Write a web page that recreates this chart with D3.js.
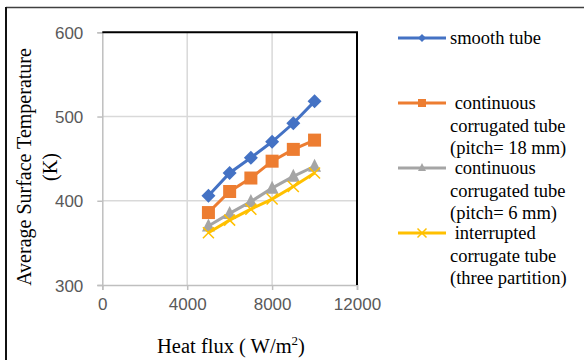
<!DOCTYPE html>
<html>
<head>
<meta charset="utf-8">
<script src="https://cdn.jsdelivr.net/npm/d3@7"></script>
<style>
  body { margin: 0; background: #fff; }
  svg { display: block; }
</style>
</head>
<body>
<div class="chart"></div>
<script>
// heat flux (W/m2)
const heatFlux = [5000, 6000, 7000, 8000, 9000, 10000];
// average surface temperature (K)
const smoothTube = [406, 433, 451, 470, 492, 518];
const pitch18 = [386, 411, 427, 447, 461, 472];
const pitch6 = [370, 385, 399, 415, 429, 441];
const interrupted = [362, 377, 390, 402, 417, 433];

const xTicks = [0, 4000, 8000, 12000];
const yTicks = [300, 400, 500, 600];

const seriesNames = [
  ["smooth tube"],
  [" continuous", "corrugated tube", "(pitch= 18 mm)"],
  [" continuous", "corrugated tube", "(pitch= 6 mm)"],
  [" interrupted", "corrugate tube", "(three partition)"]
];

const WIDTH = 584, HEIGHT = 360;
const MARGINS = { top: 32.3, right: 227, bottom: 75, left: 102.3 };

const series = [
  { values: smoothTube, color: "#4472C4", marker: "diamond" },
  { values: pitch18, color: "#ED7D31", marker: "square" },
  { values: pitch6, color: "#A5A5A5", marker: "triangle" },
  { values: interrupted, color: "#FFC000", marker: "cross" }
];
series.forEach((s, i) => { s.names = seriesNames[i]; });

const svg = d3.select(".chart")
  .append("svg")
  .attr("width", WIDTH)
  .attr("height", HEIGHT);

const xRange = d3.scaleLinear()
  .domain([0, 12000])
  .range([MARGINS.left, WIDTH - MARGINS.right]);
const yRange = d3.scaleLinear()
  .domain([300, 600])
  .range([HEIGHT - MARGINS.bottom, MARGINS.top]);

// outer frame (top and left edges only are visible)
svg.append("line")
  .attr("x1", 6).attr("x2", WIDTH).attr("y1", 7.5).attr("y2", 7.5)
  .attr("stroke", "#404040").attr("stroke-width", 1.5);
svg.append("line")
  .attr("x1", 6).attr("x2", 6).attr("y1", 7).attr("y2", HEIGHT)
  .attr("stroke", "#111").attr("stroke-width", 2);

// grid
svg.selectAll(".hgrid")
  .data(yTicks.slice(1, -1))
  .enter()
  .append("line")
  .attr("class", "hgrid")
  .attr("x1", xRange(0)).attr("x2", xRange(12000))
  .attr("y1", d => yRange(d)).attr("y2", d => yRange(d))
  .attr("stroke", "#d9d9d9").attr("stroke-width", 1.5);
svg.selectAll(".vgrid")
  .data(xTicks.slice(1, -1))
  .enter()
  .append("line")
  .attr("class", "vgrid")
  .attr("x1", d => xRange(d)).attr("x2", d => xRange(d))
  .attr("y1", yRange(300)).attr("y2", yRange(600))
  .attr("stroke", "#d9d9d9").attr("stroke-width", 1.5);

// axes
const xAxis = d3.axisBottom(xRange).tickValues(xTicks).tickFormat(d3.format("d")).tickSize(5).tickPadding(8);
const yAxis = d3.axisLeft(yRange).tickValues(yTicks).tickFormat(d3.format("d")).tickSize(5).tickPadding(14);

const gx = svg.append("g")
  .attr("transform", "translate(0," + yRange(300) + ")")
  .call(xAxis);
const gy = svg.append("g")
  .attr("transform", "translate(" + xRange(0) + ",0)")
  .call(yAxis);

[gx, gy].forEach(g => {
  g.select(".domain").attr("stroke", "#bfbfbf").attr("stroke-width", 1.5);
  g.selectAll(".tick line").attr("stroke", "#bfbfbf").attr("stroke-width", 1.5);
  g.selectAll(".tick text")
    .attr("fill", "#595959")
    .style("font-family", "'Liberation Sans', Arial, sans-serif")
    .style("font-size", "17px");
});
gy.selectAll(".tick text").attr("dy", "0.36em");

// top and right black border of the plot
svg.append("path")
  .attr("d", "M" + xRange(0) + "," + yRange(600) + "H" + xRange(12000) + "V" + yRange(300))
  .attr("fill", "none")
  .attr("stroke", "#000")
  .attr("stroke-width", 2);

// markers
function drawMarker(g, type, color, size) {
  const h = size / 2;
  if (type === "diamond") {
    g.append("path").attr("d", `M0,${-h}L${h},0L0,${h}L${-h},0Z`).attr("fill", color);
  } else if (type === "square") {
    g.append("rect").attr("x", -h).attr("y", -h).attr("width", size).attr("height", size).attr("fill", color);
  } else if (type === "triangle") {
    g.append("path").attr("d", `M0,${-h - 1}L${h},${h - 1}L${-h},${h - 1}Z`).attr("fill", color);
  } else {
    g.append("path").attr("d", `M${-h},${-h}L${h},${h}M${-h},${h}L${h},${-h}`)
      .attr("stroke", color).attr("stroke-width", 1.5).attr("fill", "none");
  }
}

const lineFunc = d3.line()
  .x(d => xRange(d.x))
  .y(d => yRange(d.y));

series.forEach(s => {
  const pts = heatFlux.map((x, i) => ({ x: x, y: s.values[i] }));
  svg.append("path")
    .attr("d", lineFunc(pts))
    .attr("fill", "none")
    .attr("stroke", s.color)
    .attr("stroke-width", 3);
  pts.forEach(p => {
    const g = svg.append("g").attr("transform", `translate(${xRange(p.x)},${yRange(p.y)})`);
    drawMarker(g, s.marker, s.color, s.marker === "cross" ? 11 : (s.marker === "diamond" ? 14 : 13));
  });
});

// axis titles
const serif = "'Liberation Serif', 'Times New Roman', serif";
const xTitle = svg.append("text")
  .attr("x", 231).attr("y", 353)
  .attr("text-anchor", "middle")
  .style("font-family", serif).style("font-size", "20.5px").attr("fill", "#000");
xTitle.append("tspan").text("Heat flux ( W/m");
xTitle.append("tspan").attr("dy", -8).style("font-size", "13px").text("2");
xTitle.append("tspan").attr("dy", 8).text(")");

const yTitle = svg.append("text")
  .attr("transform", "translate(31,167) rotate(-90)")
  .attr("text-anchor", "middle")
  .style("font-family", serif).style("font-size", "20px").attr("fill", "#000");
yTitle.append("tspan").attr("x", 0).attr("y", 0).text("Average Surface Temperature");
yTitle.append("tspan").attr("x", 0).attr("y", 26).text("(K)");

// legend
const legendY = [38, 103, 168, 233];
series.forEach((s, i) => {
  const g = svg.append("g").attr("transform", `translate(0,${legendY[i]})`);
  g.append("line").attr("x1", 398).attr("x2", 446).attr("y1", 0).attr("y2", 0)
    .attr("stroke", s.color).attr("stroke-width", 3);
  const m = g.append("g").attr("transform", "translate(422,0)");
  drawMarker(m, s.marker, s.color, s.marker === "cross" ? 9 : 8);
  const t = g.append("text")
    .style("font-family", serif).style("font-size", "18.5px")
    .attr("fill", "#000")
    .attr("xml:space", "preserve")
    .style("white-space", "pre");
  s.names.forEach((n, j) => {
    t.append("tspan").attr("x", 450).attr("y", j * 22.5).attr("dy", "0.33em").text(n);
  });
});
</script>
</body>
</html>
